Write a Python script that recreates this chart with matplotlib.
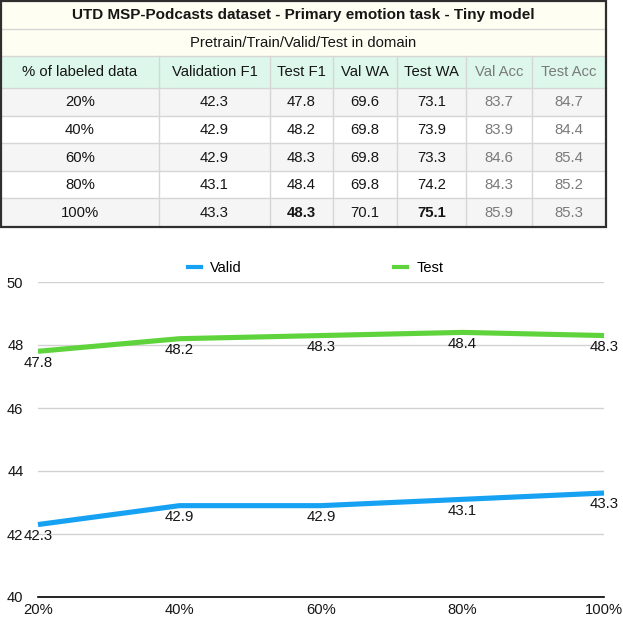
import matplotlib
matplotlib.use('Agg')
import matplotlib.pyplot as plt
from matplotlib.patches import Rectangle
from matplotlib.lines import Line2D

plt.rcParams['font.family'] = ['Liberation Sans', 'DejaVu Sans']

# ---------------- data ----------------
title = "UTD MSP-Podcasts dataset - Primary emotion task - Tiny model"
subtitle = "Pretrain/Train/Valid/Test in domain"
columns = ["% of labeled data", "Validation F1", "Test F1", "Val WA", "Test WA", "Val Acc", "Test Acc"]
labeled = ["20%", "40%", "60%", "80%", "100%"]
val_f1 = [42.3, 42.9, 42.9, 43.1, 43.3]
test_f1 = [47.8, 48.2, 48.3, 48.4, 48.3]
val_wa = [69.6, 69.8, 69.8, 69.8, 70.1]
test_wa = [73.1, 73.9, 73.3, 74.2, 75.1]
val_acc = [83.7, 83.9, 84.6, 84.3, 85.9]
test_acc = [84.7, 84.4, 85.4, 85.2, 85.3]
bold_cells = {(4, 2), (4, 4)}          # (row, column) shown in bold
gray_cols = {5, 6}                     # columns shown in gray text
series_names = ["Valid", "Test"]
y_ticks = [40, 42, 44, 46, 48, 50]

# ---------------- figure ----------------
W, H = 623, 620
fig = plt.figure(figsize=(W / 100, H / 100), dpi=100)

# ---------- table (pixel coordinate layout) ----------
tab = fig.add_axes([0, 0, 1, 1])
tab.set_xlim(0, W)
tab.set_ylim(H, 0)
tab.axis('off')

col_edges = [1, 159, 270, 333, 397, 466, 532, 606]
row_edges = [1, 29, 56, 88, 116, 143, 171, 198, 227]
left, right = col_edges[0], col_edges[-1]
top, bottom = row_edges[0], row_edges[-1]

cream = '#fefef2'
mint = '#ddf8eb'
stripe = '#f5f5f5'
line_c = '#d6d6d6'
txt_c = '#161616'
gray_c = '#7a7a7a'
fs_tab = 10.7

# backgrounds
for r in range(len(row_edges) - 1):
    if r < 2:
        fc = cream
    elif r == 2:
        fc = mint
    else:
        fc = stripe if (r - 3) % 2 == 0 else 'white'
    tab.add_patch(Rectangle((left, row_edges[r]), right - left,
                            row_edges[r + 1] - row_edges[r],
                            facecolor=fc, edgecolor='none', zorder=0))

# inner grid lines
for y in row_edges[1:-1]:
    tab.plot([left, right], [y, y], color=line_c, lw=1.0, zorder=1)
for x in col_edges[1:-1]:
    tab.plot([x, x], [row_edges[2], bottom], color=line_c, lw=1.0, zorder=1)

# outer border
tab.add_patch(Rectangle((left, top), right - left, bottom - top,
                        facecolor='none', edgecolor='#2f2f2f', lw=1.6, zorder=3))

def rc(r):
    return (row_edges[r] + row_edges[r + 1]) / 2

def cc(c):
    return (col_edges[c] + col_edges[c + 1]) / 2

tab.text((left + right) / 2, rc(0) + 0.5, title, ha='center', va='center',
         fontsize=11, fontweight='bold', color=txt_c)
tab.text((left + right) / 2, rc(1) + 0.5, subtitle, ha='center', va='center',
         fontsize=fs_tab, color=txt_c)
for c, name in enumerate(columns):
    tab.text(cc(c), rc(2) + 0.5, name, ha='center', va='center', fontsize=fs_tab,
             color=gray_c if c in gray_cols else txt_c)

table_cols = [labeled, val_f1, test_f1, val_wa, test_wa, val_acc, test_acc]
for i in range(len(labeled)):
    for c, col in enumerate(table_cols):
        v = col[i]
        s = v if isinstance(v, str) else f"{v:.1f}"
        tab.text(cc(c), rc(3 + i) + 0.5, s, ha='center', va='center',
                 fontsize=fs_tab,
                 fontweight='bold' if (i, c) in bold_cells else 'normal',
                 color=gray_c if c in gray_cols else txt_c)

# ---------- line chart ----------
px_l, px_r, px_top, px_bot = 38, 604, 282, 597
ax = fig.add_axes([px_l / W, 1 - px_bot / H, (px_r - px_l) / W, (px_bot - px_top) / H])
blue = '#16a1f3'
green = '#5fd33b'
x = list(range(len(labeled)))
ax.plot(x, val_f1, color=blue, lw=3.7, solid_capstyle='butt', clip_on=False, zorder=3)
ax.plot(x, test_f1, color=green, lw=3.7, solid_capstyle='butt', clip_on=False, zorder=3)

for series in (val_f1, test_f1):
    for xi, v in zip(x, series):
        ax.annotate(f"{v:.1f}", (xi, v), xytext=(0, -3.2), textcoords='offset points',
                    ha='center', va='top', fontsize=10.8, color=txt_c, zorder=4)

ax.set_xlim(0, len(labeled) - 1)
ax.set_ylim(y_ticks[0], y_ticks[-1])
ax.set_yticks(y_ticks)
ax.set_xticks(x)
ax.set_xticklabels(labeled)
ax.grid(axis='y', color='#d2d2d2', lw=1.0)
ax.grid(axis='x', visible=False)
ax.set_axisbelow(True)
for s in ('top', 'right', 'left'):
    ax.spines[s].set_visible(False)
ax.spines['bottom'].set_color('black')
ax.spines['bottom'].set_linewidth(1.2)
ax.tick_params(axis='both', length=0, labelsize=10.6, colors=txt_c)
ax.tick_params(axis='y', pad=10.5)
ax.tick_params(axis='x', pad=4.5)
ax.set_facecolor('none')

handles = [Line2D([], [], color=blue, lw=3), Line2D([], [], color=green, lw=3)]
fig.legend(handles=handles, labels=series_names, loc='center',
           bbox_to_anchor=(315.5 / W, 1 - 268 / H), ncol=2, frameon=False,
           handlelength=0.9, handletextpad=0.65, columnspacing=10.4, fontsize=10.5)

fig.savefig('out.png', dpi=100)
